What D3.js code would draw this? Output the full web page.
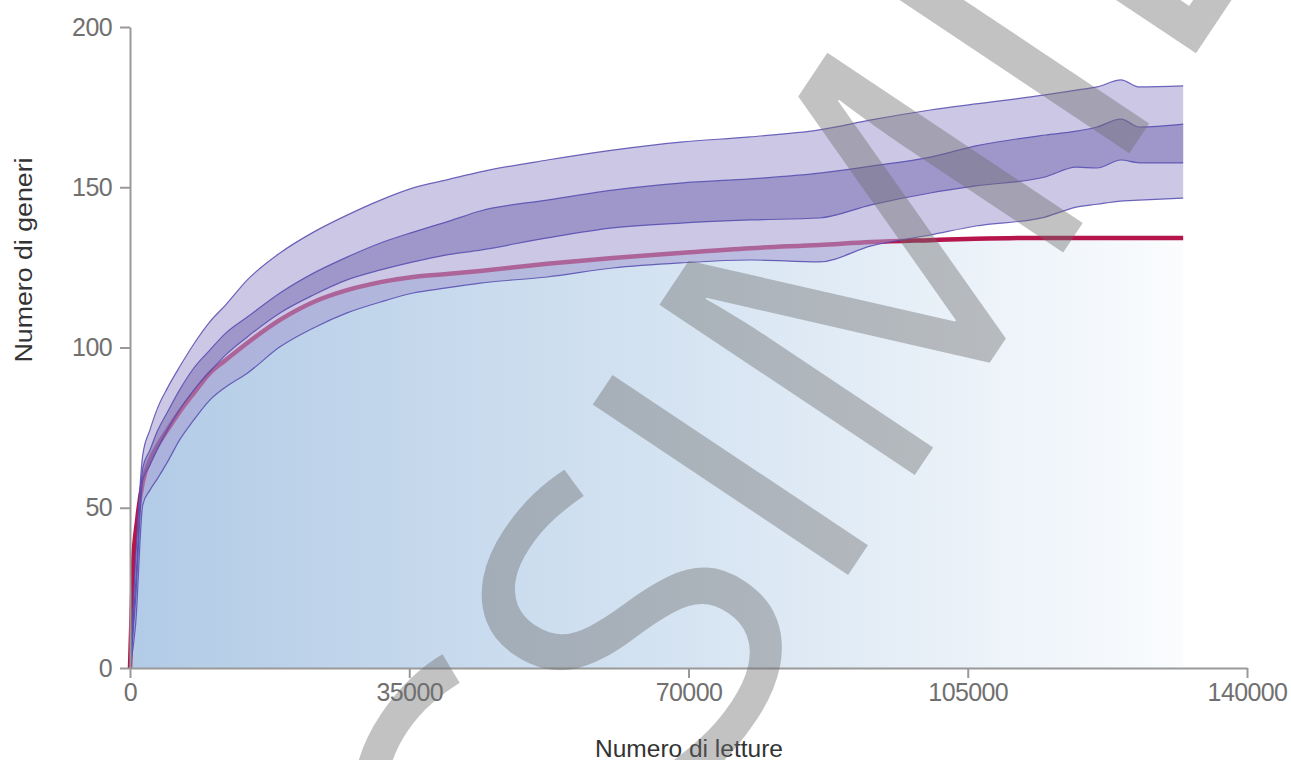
<!DOCTYPE html>
<html>
<head>
<meta charset="utf-8">
<script src="https://cdn.jsdelivr.net/npm/d3@7"></script>
<style>
  html, body { margin: 0; padding: 0; background: #fff; }
  svg { display: block; }
  .tick text { font-family: "Liberation Sans", Arial, sans-serif; }
</style>
</head>
<body>
<svg id="chart" width="1291" height="760"></svg>
<script>
// ---- data ----
const reads = [0,700,1600,2500,3500,4700,6200,8000,10000,12000,14700,18800,23000,27200,31400,35500,39700,43900,52300,60500,69000,77700,86400,92900,100300,106000,114700,118600,121200,124200,126500,132000];
const outerHigh = [0,33.7,66.5,74.3,81.4,87.4,93.9,101.1,108.0,113.3,121.1,129.5,136.0,141.3,146.0,149.8,152.3,154.8,158.5,161.6,164.1,165.7,167.9,171.0,174.1,176.0,178.8,180.3,181.3,183.5,181.3,181.6];
const innerHigh = [0,25.9,62.4,68.0,74.3,79.9,86.7,93.6,99.2,104.5,109.5,117.0,123.2,128.2,132.6,136.0,139.2,142.6,146.0,149.1,151.3,152.6,154.4,156.6,159.4,162.9,166.3,167.5,168.8,171.3,168.8,169.7];
const innerLow = [0,21.2,58.7,63.3,68.6,74.3,80.5,86.7,92.4,97.7,103.3,110.8,116.4,121.1,124.2,126.7,128.9,130.4,134.2,137.3,138.8,139.8,140.4,144.5,148.2,150.4,153.2,156.3,156.0,158.5,157.6,157.6];
const outerLow = [0,13.4,50.9,55.5,59.3,64.3,71.1,77.4,83.6,87.7,92.0,100.2,106.1,110.8,114.2,117.0,118.6,120.1,122.0,124.8,126.4,127.3,126.7,131.7,135.1,137.9,140.7,143.8,144.7,145.7,146.0,146.6];
const sampleReads = [0,250,400,900,1600,2500,3500,4700,6200,8000,10000,12000,14700,18800,23000,27200,31400,35500,39700,43900,52300,60500,69000,77700,86400,92900,100300,106000,114700,124200,132000];
const sampleGenera = [0,21.2,32.8,46.2,58.0,64.9,69.6,74.3,79.9,85.8,92.0,96.1,101.4,108.6,114.2,117.9,120.4,122.0,122.9,123.9,126.1,127.9,129.5,131.0,132.0,132.9,133.5,133.9,134.2,134.2,134.2];
const xTicks = [0,35000,70000,105000,140000];
const yTicks = [0,50,100,150,200];
const xTitle = "Numero di letture";
const yTitle = "Numero di generi";
const watermarkLead = "FAC";
const watermarkMain = "SIMILE";

// ---- layout ----
const svg = d3.select("#chart");
const x = d3.scaleLinear().domain([0,140000]).range([130,1247]);
const y = d3.scaleLinear().domain([0,200]).range([668,27]);

const defs = svg.append("defs");
const grad = defs.append("linearGradient").attr("id","blueGrad")
  .attr("gradientUnits","userSpaceOnUse").attr("x1",130).attr("x2",1247).attr("y1",0).attr("y2",0);
grad.append("stop").attr("offset","0%").attr("stop-color","rgb(178,203,230)");
grad.append("stop").attr("offset","50%").attr("stop-color","rgb(214,228,242)");
grad.append("stop").attr("offset","100%").attr("stop-color","#ffffff");

const sample = sampleReads.map((r,i)=>({r, v: sampleGenera[i]}));
const bands = reads.map((r,i)=>({r, oh: outerHigh[i], ih: innerHigh[i], il: innerLow[i], ol: outerLow[i]}));

// blue area under sample curve
svg.append("path").datum(sample)
  .attr("d", d3.area().x(d=>x(d.r)).y0(y(0)).y1(d=>y(d.v)).curve(d3.curveMonotoneX))
  .attr("fill","url(#blueGrad)");

// sample line (below bands)
svg.append("path").datum(sample)
  .attr("d", d3.line().x(d=>x(d.r)).y(d=>y(d.v)).curve(d3.curveMonotoneX))
  .attr("fill","none").attr("stroke","#b5154a").attr("stroke-width",4.5);

// outer band
svg.append("path").datum(bands)
  .attr("d", d3.area().x(d=>x(d.r)).y0(d=>y(d.ol)).y1(d=>y(d.oh)).curve(d3.curveMonotoneX))
  .attr("fill","rgba(165,158,210,0.58)");
// inner band
svg.append("path").datum(bands)
  .attr("d", d3.area().x(d=>x(d.r)).y0(d=>y(d.il)).y1(d=>y(d.ih)).curve(d3.curveMonotoneX))
  .attr("fill","rgba(115,103,175,0.5)");
// edges
["oh","ih","il","ol"].forEach(k=>{
  svg.append("path").datum(bands)
    .attr("d", d3.line().x(d=>x(d.r)).y(d=>y(d[k])).curve(d3.curveMonotoneX))
    .attr("fill","none").attr("stroke","rgba(85,75,175,0.85)").attr("stroke-width",1.2);
});

// axes
const ax = svg.append("g").attr("transform","translate(0,668)")
  .call(d3.axisBottom(x).tickValues(xTicks).tickFormat(d3.format("d")).tickSize(10).tickSizeOuter(0).tickPadding(5));
const ay = svg.append("g").attr("transform","translate(130,0)")
  .call(d3.axisLeft(y).tickValues(yTicks).tickSize(10).tickSizeOuter(0).tickPadding(8));
[ax,ay].forEach(g=>{
  g.select(".domain").attr("stroke","#999").attr("stroke-width",2);
  g.selectAll(".tick line").attr("stroke","#999").attr("stroke-width",2);
  g.selectAll(".tick text").attr("fill","#707070").style("font-size","25px").style("letter-spacing","-0.6px");
});

// titles
svg.append("text").attr("x",689).attr("y",757).attr("text-anchor","middle")
  .attr("textLength",188).attr("lengthAdjust","spacingAndGlyphs")
  .style("font-family","'Liberation Sans', Arial, sans-serif").style("font-size","23.5px")
  .attr("fill","#333").text(xTitle);
svg.append("text").attr("transform","translate(32,260) rotate(-90)").attr("text-anchor","middle")
  .attr("textLength",205).attr("lengthAdjust","spacingAndGlyphs")
  .style("font-family","'Liberation Sans', Arial, sans-serif").style("font-size","23.5px")
  .attr("fill","#333").text(yTitle);

// watermark "FACSIMILE" — the S starts at the rotated origin
const wm = svg.append("g").attr("transform","translate(694,806) rotate(-56.3)");
const wmStyle = sel => sel.style("font-family","'Open Sans', sans-serif").style("font-size","430px");
const probe = wm.append("text").call(wmStyle).text(watermarkLead);
const leadW = probe.node().getComputedTextLength();
probe.remove();
wm.append("text").call(wmStyle).attr("x",-leadW)
  .attr("fill","rgba(110,110,110,0.42)").text(watermarkLead + watermarkMain);
</script>
</body>
</html>
